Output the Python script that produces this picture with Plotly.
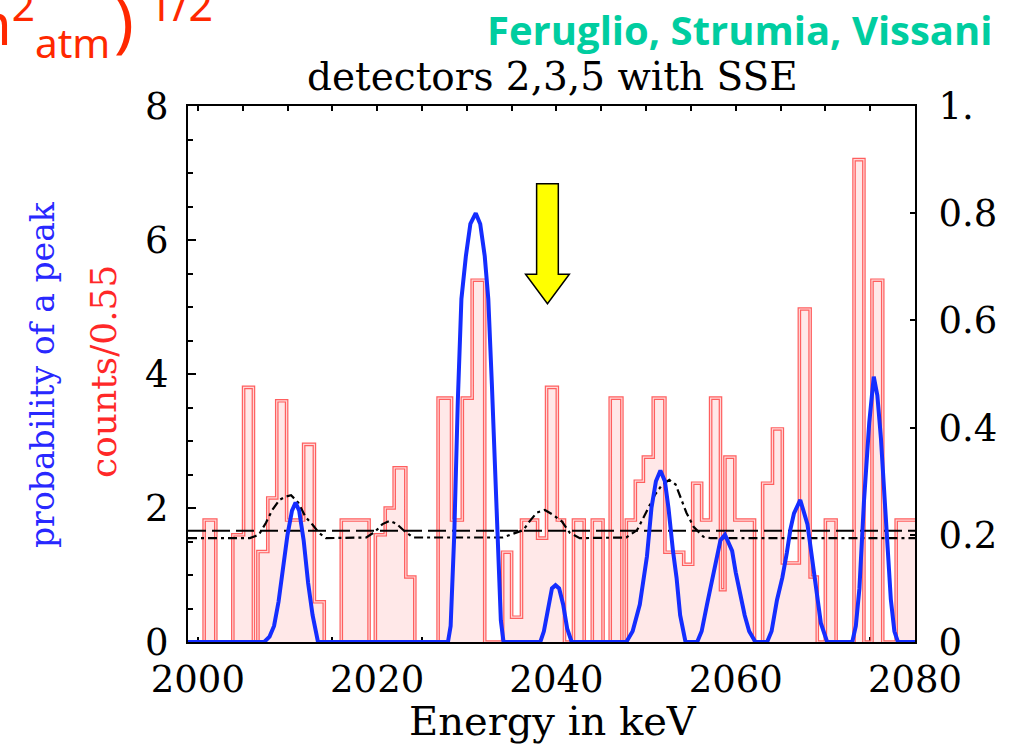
import plotly.graph_objects as go

# ---------------- data ----------------
# Energy histogram: step edges (keV) and heights (counts / 0.55)
bin_edges = [1998.9, 2000.7, 2002.0, 2003.9, 2005.1, 2006.2, 2006.7, 2007.8, 2008.8, 2009.9,
             2011.8, 2013.0, 2014.1, 2016.0, 2019.1, 2019.8, 2020.9, 2021.9, 2023.2, 2024.2,
             2026.8, 2028.3, 2029.5, 2030.6, 2032.0, 2034.0, 2035.0, 2036.1, 2037.9, 2038.9,
             2040.1, 2040.9, 2041.9, 2043.1, 2044.0, 2045.2, 2046.0, 2047.3, 2047.8, 2048.8,
             2049.7, 2050.8, 2052.1, 2054.2, 2055.2, 2056.2, 2057.2, 2058.3, 2058.8, 2059.9,
             2062.1, 2063.0, 2064.1, 2065.2, 2067.1, 2068.3, 2069.1, 2070.0, 2071.2, 2073.2,
             2074.3, 2075.2, 2076.4, 2077.9, 2080.0]
bin_heights = [0, 1.82, 0, 1.6, 3.8, 0, 1.35, 2.15, 3.6,
               1.82, 2.95, 0.6, 0, 1.82, 0, 1.6, 2.0, 2.6, 0.97,
               0, 3.64, 1.82, 3.64, 5.4, 0, 1.34, 0.37, 1.82, 1.55,
               3.8, 1.82, 0, 1.82, 0, 1.82, 0, 3.64, 0, 1.82,
               2.4, 2.76, 3.64, 1.34, 1.16, 2.37, 1.82, 3.64, 0.78, 2.76,
               1.82, 0, 2.37, 3.18, 1.18, 4.97, 0.97, 0, 1.82, 0,
               7.2, 0, 5.4, 0, 1.82]

# Probability of a peak (right axis)
prob_energy = [1998.9, 2007.4, 2008.0, 2008.5, 2009.0, 2009.5, 2010.0, 2010.5, 2010.9, 2011.3,
               2011.8, 2012.3, 2012.8, 2013.4,
               2027.9, 2028.2, 2028.6, 2029.0, 2029.4, 2029.9, 2030.4, 2031.0, 2031.5, 2032.0,
               2032.4, 2032.8, 2033.2, 2033.5, 2033.8, 2034.1,
               2038.2, 2038.6, 2039.1, 2039.5, 2039.9, 2040.3, 2040.75, 2041.2, 2041.7,
               2047.8, 2048.5, 2049.3, 2050.1, 2050.6, 2051.1, 2051.6, 2052.1, 2052.5, 2053.0,
               2053.4, 2053.8, 2054.4,
               2055.7, 2056.2, 2056.8, 2057.6, 2058.3, 2058.8, 2059.6, 2060.0, 2060.5, 2061.0,
               2061.5, 2062.2,
               2063.5, 2064.0, 2064.6, 2065.2, 2065.7, 2066.1, 2066.5, 2067.2, 2068.0, 2068.4,
               2068.7, 2069.1, 2069.5, 2070.2,
               2073.0, 2073.4, 2073.8, 2074.3, 2074.9, 2075.4, 2075.8, 2076.2, 2076.7, 2077.3,
               2077.7, 2078.1, 2080.0]
prob_value = [0, 0, 0.01, 0.03, 0.075, 0.14, 0.20, 0.245, 0.26, 0.245,
              0.19, 0.11, 0.05, 0,
              0, 0.03, 0.2, 0.45, 0.64, 0.72, 0.78, 0.80, 0.78, 0.72,
              0.64, 0.48, 0.30, 0.15, 0.04, 0,
              0, 0.02, 0.07, 0.1, 0.106, 0.1, 0.07, 0.025, 0,
              0, 0.02, 0.07, 0.16, 0.25, 0.3, 0.32, 0.3, 0.25, 0.17,
              0.12, 0.05, 0,
              0, 0.02, 0.07, 0.13, 0.19, 0.2, 0.17, 0.13, 0.09, 0.05,
              0.02, 0,
              0, 0.02, 0.078, 0.12, 0.166, 0.21, 0.24, 0.265, 0.22, 0.17,
              0.13, 0.08, 0.035, 0,
              0, 0.03, 0.1, 0.26, 0.41, 0.495, 0.46, 0.38, 0.23, 0.08,
              0.02, 0, 0]

# Flat background level and background with peak hypotheses (left axis units)
flat_energy = [1998.9, 2080.0]
flat_level = [1.66, 1.66]
bkg_energy = [1998.9, 2005.8, 2006.8, 2007.6, 2008.3, 2009.1, 2009.8, 2010.4, 2011.2, 2012.0,
              2012.8, 2013.5, 2014.3, 2018.8, 2019.8, 2020.6, 2021.4, 2022.2, 2023.0, 2024.0,
              2034.0, 2034.8, 2036.3, 2037.0, 2037.8, 2038.7, 2039.6, 2040.6, 2041.5, 2042.6,
              2047.8, 2049.0, 2050.1, 2051.0, 2051.8, 2052.6, 2053.3, 2053.8, 2054.5, 2055.3,
              2056.4, 2057.2, 2080.0]
bkg_level = [1.55, 1.55, 1.6, 1.78, 1.97, 2.12, 2.17, 2.19, 2.08, 1.87,
             1.75, 1.63, 1.55, 1.56, 1.65, 1.76, 1.81, 1.76, 1.66, 1.56,
             1.56, 1.6, 1.67, 1.8, 1.93, 1.97, 1.9, 1.8, 1.63, 1.55,
             1.56, 1.67, 1.97, 2.2, 2.35, 2.42, 2.35, 2.17, 1.93, 1.72,
             1.57, 1.55, 1.55]

x_ticks = [2000, 2020, 2040, 2060, 2080]
left_ticks = [0, 2, 4, 6, 8]
right_ticks = [0, 0.2, 0.4, 0.6, 0.8, 1.0]
right_labels = ["0", "0.2", "0.4", "0.6", "0.8", "1."]

# ---------------- layout geometry (pixels) ----------------
W_FIG, H_FIG = 1016, 744
L, R, T, B = 188, 101, 106, 102
PW, PH = W_FIG - L - R, H_FIG - T - B


def px(xp):
    return (xp - L) / PW


def py(yp):
    return (T + PH - yp) / PH


SERIF = "DejaVu Serif"
fig = go.Figure()

# histogram: pink fill with a hollow red outline
step_y = bin_heights + [bin_heights[-1]]
fig.add_trace(go.Scatter(x=bin_edges, y=step_y, mode="lines", line_shape="hv",
                         fill="tozeroy", fillcolor="rgb(255,232,232)",
                         line=dict(color="rgb(255,95,95)", width=3.6),
                         hoverinfo="skip", showlegend=False))
fig.add_trace(go.Scatter(x=bin_edges, y=step_y, mode="lines", line_shape="hv",
                         line=dict(color="rgb(255,215,215)", width=1.2),
                         hoverinfo="skip", showlegend=False))

# background curves
fig.add_trace(go.Scatter(x=flat_energy, y=flat_level, mode="lines",
                         line=dict(color="black", width=2, dash="18px,6px"),
                         hoverinfo="skip", showlegend=False))
fig.add_trace(go.Scatter(x=bkg_energy, y=bkg_level, mode="lines",
                         line=dict(color="black", width=2.2, dash="9px,4px,3px,4px"),
                         hoverinfo="skip", showlegend=False))

# probability curve on the right axis
fig.add_trace(go.Scatter(x=prob_energy, y=prob_value, mode="lines", yaxis="y2",
                         line=dict(color="rgb(20,45,255)", width=4),
                         hoverinfo="skip", showlegend=False))

tickfont = dict(family=SERIF, size=37, color="black")
fig.update_layout(
    width=W_FIG, height=H_FIG,
    margin=dict(l=L, r=R, t=T, b=B, autoexpand=False),
    paper_bgcolor="white", plot_bgcolor="white",
    xaxis=dict(range=[1998.9, 2080], tickvals=x_ticks, ticks="inside", ticklen=5,
               tickwidth=1.5, tickcolor="black", showline=True, linecolor="black",
               linewidth=2, mirror="ticks", showgrid=False, zeroline=False,
               tickfont=tickfont, layer="below traces", ticklabelstandoff=4,
               minor=dict(dtick=5, tick0=2000, ticks="inside", ticklen=5,
                          tickwidth=1.5, tickcolor="black", showgrid=False)),
    yaxis=dict(range=[0, 8], tickvals=left_ticks, ticks="inside", ticklen=8,
               tickwidth=1.5, tickcolor="black", showline=True, linecolor="black",
               linewidth=2, showgrid=False, zeroline=False, tickfont=tickfont,
               ticklabelstandoff=10,
               minor=dict(dtick=0.5, tick0=0, ticks="inside", ticklen=5,
                          tickwidth=1.5, tickcolor="black", showgrid=False)),
    yaxis2=dict(range=[0, 1], overlaying="y", side="right", tickvals=right_ticks,
                ticktext=right_labels, ticks="inside", ticklen=5, tickwidth=1.5,
                tickcolor="black", showline=True, linecolor="black", linewidth=2,
                showgrid=False, zeroline=False, tickfont=tickfont,
                ticklabelstandoff=14),
)

# yellow arrow pointing at 2039 keV
ARROW_X, ARROW_TIP, ARROW_NECK, ARROW_TOP = 2039.0, 5.05, 5.49, 6.84
SHAFT, HEAD = 1.21, 2.44
arrow_path = (f"M {ARROW_X - SHAFT},{ARROW_TOP} L {ARROW_X + SHAFT},{ARROW_TOP} "
              f"L {ARROW_X + SHAFT},{ARROW_NECK} L {ARROW_X + HEAD},{ARROW_NECK} "
              f"L {ARROW_X},{ARROW_TIP} L {ARROW_X - HEAD},{ARROW_NECK} "
              f"L {ARROW_X - SHAFT},{ARROW_NECK} Z")
fig.add_shape(type="path", path=arrow_path, xref="x", yref="y",
              fillcolor="rgb(255,255,0)", line=dict(color="black", width=1.5),
              layer="above")

ann = []
# plot title
ann.append(dict(text="detectors 2,3,5 with SSE", x=px(552), y=py(77), xref="paper",
                yref="paper", showarrow=False, xanchor="center", yanchor="middle",
                font=dict(family=SERIF, size=39, color="black")))
# axis title
ann.append(dict(text="Energy in keV", x=px(553), y=py(721), xref="paper", yref="paper",
                showarrow=False, xanchor="center", yanchor="middle",
                font=dict(family=SERIF, size=40, color="black")))
# left axis titles
ann.append(dict(text="probability of a peak", x=px(42), y=py(375), xref="paper",
                yref="paper", showarrow=False, textangle=-90, xanchor="center",
                yanchor="middle", font=dict(family=SERIF, size=33, color="rgb(40,40,255)")))
ann.append(dict(text="counts/0.55", x=px(103), y=py(372), xref="paper", yref="paper",
                showarrow=False, textangle=-90, xanchor="center", yanchor="middle",
                font=dict(family=SERIF, size=36, color="rgb(255,40,40)")))
# author credit
ann.append(dict(text="<b>Feruglio, Strumia, Vissani</b>", x=px(995), y=py(30),
                xref="paper", yref="paper", showarrow=False, xanchor="right",
                yanchor="middle", font=dict(family="Open Sans", size=40,
                                            color="rgb(0,205,160)")))
# slide formula running off the left edge
RED = "rgb(255,40,0)"
ann.append(dict(text="(Δm<sup>2</sup><sub>atm</sub>", x=px(112), y=py(24),
                xref="paper", yref="paper", showarrow=False, xanchor="right",
                yanchor="middle", font=dict(family="Noto Sans", size=58, color=RED)))
ann.append(dict(text=")", x=px(124), y=py(19), xref="paper", yref="paper",
                showarrow=False, xanchor="center", yanchor="middle",
                font=dict(family="Noto Sans", size=66, color=RED)))
ann.append(dict(text="1/2", x=px(146), y=py(5), xref="paper", yref="paper",
                showarrow=False, xanchor="left", yanchor="middle",
                font=dict(family="Noto Sans", size=43, color=RED)))
fig.update_layout(annotations=ann)

fig.write_html("out.html")
